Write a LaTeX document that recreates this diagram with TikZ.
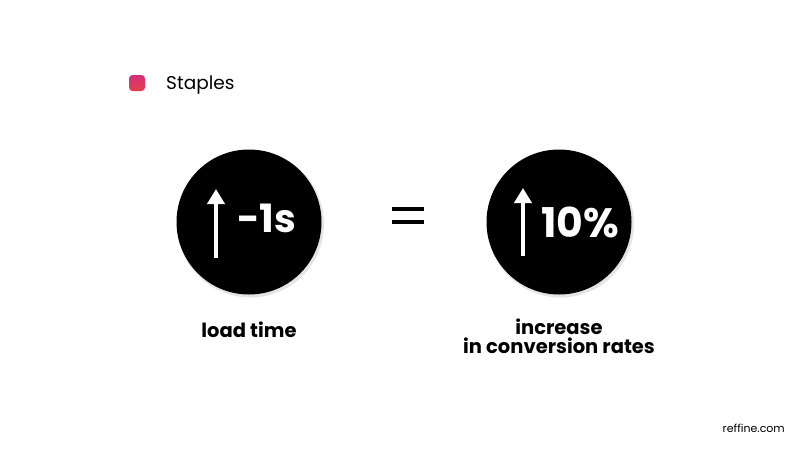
\documentclass[tikz,border=0pt]{standalone}
\usepackage{fontspec}
\setmainfont{Poppins}
\usetikzlibrary{arrows.meta,calc}
\definecolor{pinktop}{HTML}{D4307A}
\definecolor{pinkbot}{HTML}{E2404E}
\tikzset{
  bigcircle/.style={circle,fill=black,minimum size=145pt,inner sep=0pt},
  shadowcircle/.style={circle,fill=black!10,minimum size=147pt,inner sep=0pt},
  uparrow/.style={draw=white,line width=4pt,-{Triangle[width=17pt,length=15pt]}},
  bigtext/.style={text=white,font=\bfseries\fontsize{39}{39}\selectfont,anchor=base west,inner sep=0pt},
  label/.style={font=\bfseries\fontsize{19.5}{18.5}\selectfont,align=center,inner sep=0pt},
}
\begin{document}
\begin{tikzpicture}[x=1pt,y=-1pt]
\useasboundingbox[fill=white] (0,0) rectangle (800,450);
% legend
\shade[top color=pinktop,bottom color=pinkbot,rounded corners=3.5pt] (129,75) rectangle (145,91);
\node[anchor=base west,inner sep=0pt,font=\fontsize{18.5}{20}\selectfont] (leg) at (166,89) {Staples};
% circles
\node[shadowcircle] at (250.5,224) {};
\node[bigcircle] (c1) at (249,222) {};
\node[shadowcircle] at (560.5,224) {};
\node[bigcircle] (c2) at (559,222) {};
% arrows
\coordinate (a1s) at ($(c1.center)+(-33,36)$);
\coordinate (a1e) at ($(c1.center)+(-33,-33)$);
\draw[uparrow] (a1s) -- (a1e);
\coordinate (a2s) at ($(c2.center)+(-36,34)$);
\coordinate (a2e) at ($(c2.center)+(-36,-34)$);
\draw[uparrow] (a2s) -- (a2e);
% big texts
\node[bigtext] (t1) at (237,232) {-1s};
\node[bigtext,font=\bfseries\fontsize{41}{41}\selectfont] (t2) at (541,237) {10\%};
% equals
\fill (392,207) rectangle (424,211);
\fill (392,220) rectangle (424,224);
% labels
\node[label,anchor=base] (l1) at (c1.center |- 0,337) {load time};
\node[label,anchor=base] (l2) at (c2.center |- 0,353) {increase\\in conversion rates};
% footer
\node[anchor=base east,inner sep=0pt,font=\fontsize{11}{12}\selectfont] (ft) at (785,432) {reffine.com};
\end{tikzpicture}
\end{document}
